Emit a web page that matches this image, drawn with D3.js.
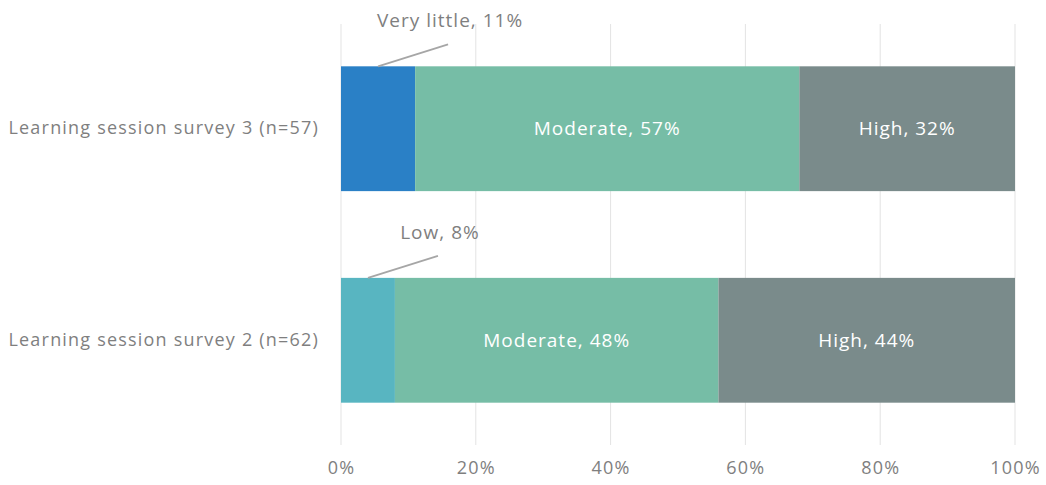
<!DOCTYPE html>
<html>
<head>
<meta charset="utf-8">
<script src="https://cdn.jsdelivr.net/npm/d3@7"></script>
<style>
  body { margin: 0; background: #fff; }
  svg text { font-family: "Open Sans", "Lato", sans-serif; }
</style>
</head>
<body>
<div id="chart"></div>
<script>
(function(){
    // Data
    const surveys = ["Learning session survey 3 (n=57)", "Learning session survey 2 (n=62)"];
    const levels = ["Very little", "Low", "Moderate", "High"];
    const veryLittle = [11, 0];
    const low = [0, 8];
    const moderate = [57, 48];
    const high = [32, 44];
    const xTicks = [0, 20, 40, 60, 80, 100];

    const colors = { "Very little": "#2a80c6", "Low": "#58b5c1", "Moderate": "#76bda6", "High": "#7a8b8b" };

    const rows = surveys.map((s, i) => ({
        survey: s,
        "Very little": veryLittle[i], "Low": low[i], "Moderate": moderate[i], "High": high[i]
    }));

    const W = 1046, H = 485;
    const margin = { top: 24, right: 31, bottom: 40, left: 341 };

    const svg = d3.select("#chart").append("svg")
        .attr("width", W).attr("height", H);

    const x = d3.scaleLinear().domain([0, 100]).range([margin.left, W - margin.right]);
    const y = d3.scaleBand().domain(surveys).range([margin.top, H - margin.bottom]).paddingInner(0.41).paddingOuter(0.2);

    // Grid lines
    svg.selectAll(".grid").data(xTicks).enter().append("line")
        .attr("x1", d => x(d)).attr("x2", d => x(d))
        .attr("y1", margin.top).attr("y2", H - margin.bottom)
        .attr("stroke", "#e3e3e3").attr("stroke-width", 1);

    // Axis labels
    const xAxis = svg.append("g")
        .attr("transform", `translate(0, ${H - margin.bottom})`)
        .call(d3.axisBottom(x).tickValues(xTicks).tickFormat(d => d + "%").tickSize(0).tickPadding(16));
    xAxis.select(".domain").remove();
    xAxis.selectAll("text").attr("fill", "#7f7f7f")
        .style("font-size", "18px").style("letter-spacing", "1.2px");

    const yAxis = svg.append("g")
        .attr("transform", `translate(${margin.left - 22}, 0)`)
        .call(d3.axisLeft(y).tickSize(0).tickPadding(0));
    yAxis.select(".domain").remove();
    yAxis.selectAll("text").attr("fill", "#7f7f7f")
        .style("font-size", "18px").style("letter-spacing", "1.2px");

    const stack = d3.stack().keys(levels)(rows);

    stack.forEach(layer => {
        const key = layer.key;
        layer.forEach(seg => {
            const v = seg[1] - seg[0];
            if (v <= 0) return;
            const survey = seg.data.survey;
            svg.append("rect")
                .attr("x", x(seg[0]))
                .attr("y", y(survey))
                .attr("width", x(seg[1]) - x(seg[0]))
                .attr("height", y.bandwidth())
                .attr("fill", colors[key]);

            const label = `${key}, ${v}%`;
            if (v > 15) {
                svg.append("text")
                    .attr("x", x((seg[0] + seg[1]) / 2))
                    .attr("y", y(survey) + y.bandwidth() / 2)
                    .attr("dy", "0.35em")
                    .attr("text-anchor", "middle")
                    .attr("fill", "#fff")
                    .style("font-size", "19px").style("font-weight", 500)
                    .style("letter-spacing", "1px")
                    .text(label);
            } else {
                // Leader line + outside label
                const sx = x((seg[0] + seg[1]) / 2);
                const sy = y(survey);
                const ex = sx + 70, ey = sy - 22;
                svg.append("line")
                    .attr("x1", sx).attr("y1", sy)
                    .attr("x2", ex).attr("y2", ey)
                    .attr("stroke", "#a6a6a6").attr("stroke-width", 1.8);
                svg.append("text")
                    .attr("x", ex + 2)
                    .attr("y", ey - 17)
                    .attr("text-anchor", "middle")
                    .attr("fill", "#7f7f7f")
                    .style("font-size", "19px").style("font-weight", 500)
                    .style("letter-spacing", "1px")
                    .text(label);
            }
        });
    });
})();
</script>
</body>
</html>
